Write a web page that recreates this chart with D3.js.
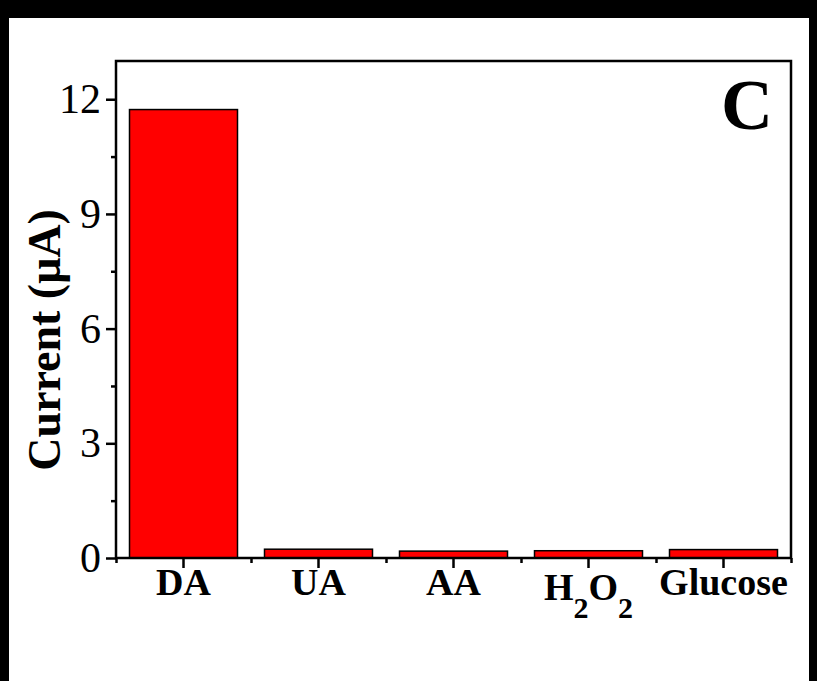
<!DOCTYPE html>
<html>
<head>
<meta charset="utf-8">
<script src="https://cdn.jsdelivr.net/npm/d3@7"></script>
<style>
  html, body { margin: 0; padding: 0; background: #000; }
  svg { display: block; }
</style>
</head>
<body>
<svg id="chart"></svg>
<script>
const categories = ["DA", "UA", "AA", "H2O2", "Glucose"];
const currents = [11.73, 0.23, 0.18, 0.19, 0.22];
const majorTicks = [0, 3, 6, 9, 12];
const minorTicks = [1.5, 4.5, 7.5, 10.5];

const width = 817;
const height = 681;
const margin = { top: 61, right: 26, bottom: 123, left: 116 };

const svg = d3.select("#chart").attr("width", width).attr("height", height);

// white page on black surround
svg.append("rect").attr("x", 9).attr("y", 18).attr("width", 800).attr("height", height - 18).attr("fill", "#fff");

const x = d3
  .scaleBand()
  .domain(categories)
  .range([margin.left, width - margin.right])
  .paddingInner(0.2)
  .paddingOuter(0.1);
const xEdges = d3
  .scaleLinear()
  .domain([0, categories.length])
  .range([margin.left, width - margin.right]);
const y = d3
  .scaleLinear()
  .domain([0, 13])
  .range([height - margin.bottom, margin.top]);

// bars
svg
  .append("g")
  .selectAll("rect")
  .data(currents)
  .join("rect")
  .attr("x", (d, i) => x(categories[i]))
  .attr("width", x.bandwidth())
  .attr("y", (d) => y(d))
  .attr("height", (d) => y(0) - y(d))
  .attr("fill", "#ff0000")
  .attr("stroke", "#000")
  .attr("stroke-width", 1.5);

// frame
svg
  .append("rect")
  .attr("x", margin.left)
  .attr("y", margin.top)
  .attr("width", width - margin.left - margin.right)
  .attr("height", height - margin.top - margin.bottom)
  .attr("fill", "none")
  .attr("stroke", "#000")
  .attr("stroke-width", 2.5);

const styleAxis = (g) => {
  g.select(".domain").remove();
  g.selectAll(".tick line").attr("stroke", "#000").attr("stroke-width", 2.5);
};

// y axis
svg
  .append("g")
  .attr("transform", `translate(${margin.left},0)`)
  .call(d3.axisLeft(y).tickValues(majorTicks).tickSize(10).tickPadding(5))
  .call(styleAxis)
  .call((g) =>
    g.selectAll("text")
      .attr("font-family", "Liberation Serif, Times New Roman, serif")
      .attr("font-size", 42)
      .attr("fill", "#000")
  );
svg
  .append("g")
  .attr("transform", `translate(${margin.left},0)`)
  .call(d3.axisLeft(y).tickValues(minorTicks).tickSize(5).tickFormat(""))
  .call(styleAxis);

// x axis
svg
  .append("g")
  .attr("transform", `translate(0,${height - margin.bottom})`)
  .call(d3.axisBottom(x).tickSize(10).tickFormat(""))
  .call(styleAxis);
svg
  .append("g")
  .attr("transform", `translate(0,${height - margin.bottom})`)
  .call(d3.axisBottom(xEdges).tickValues(d3.range(categories.length + 1)).tickSize(5).tickFormat(""))
  .call(styleAxis);

// category labels (H2O2 with subscripts)
const labels = svg
  .append("g")
  .attr("font-family", "Liberation Serif, Times New Roman, serif")
  .attr("font-weight", "bold")
  .attr("font-size", 38)
  .attr("text-anchor", "middle")
  .selectAll("text")
  .data(categories)
  .join("text")
  .attr("x", (d) => x(d) + x.bandwidth() / 2)
  .attr("y", (d) => height - margin.bottom + (d === "H2O2" ? 42 : 37));
labels.each(function (d) {
  const t = d3.select(this);
  if (d === "H2O2") {
    t.append("tspan").text("H");
    t.append("tspan").text("2").attr("font-size", 30).attr("dy", 18);
    t.append("tspan").text("O").attr("dy", -18);
    t.append("tspan").text("2").attr("font-size", 30).attr("dy", 18);
  } else {
    t.text(d);
  }
});

// y axis title
svg
  .append("text")
  .attr("transform", `translate(60,340) rotate(-90)`)
  .attr("text-anchor", "middle")
  .attr("font-family", "Liberation Serif, Times New Roman, serif")
  .attr("font-weight", "bold")
  .attr("font-size", 46)
  .text("Current (μA)");

// panel letter
svg
  .append("text")
  .attr("x", width - margin.right - 18)
  .attr("y", margin.top + 68)
  .attr("text-anchor", "end")
  .attr("font-family", "Liberation Serif, Times New Roman, serif")
  .attr("font-weight", "bold")
  .attr("font-size", 72)
  .text("C");
</script>
</body>
</html>
